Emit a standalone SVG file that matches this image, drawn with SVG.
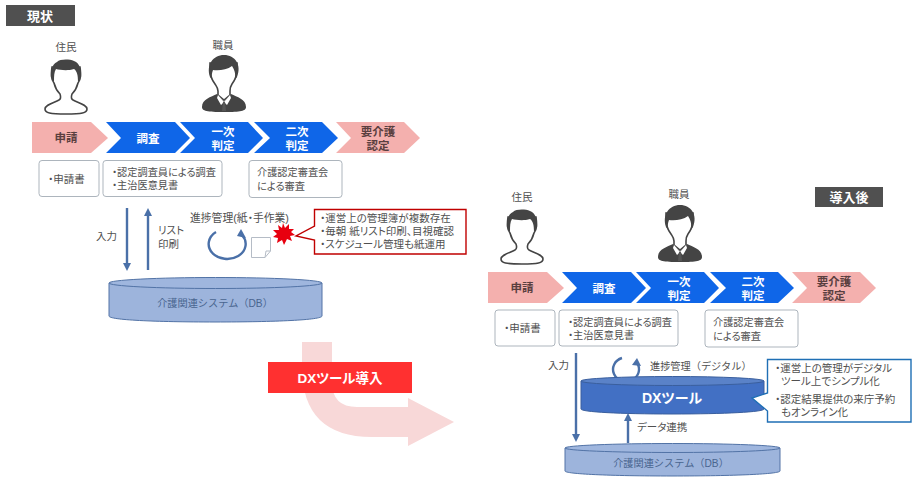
<svg xmlns="http://www.w3.org/2000/svg" width="917" height="480" viewBox="0 0 917 480">
<style>
text{font-family:"Liberation Sans","Noto Sans CJK JP",sans-serif;fill:#505050;font-size:10.5px;font-feature-settings:"palt"}
.s{font-size:10.2px}
.n{font-feature-settings:normal;font-size:10.2px}
.c{text-anchor:middle}
.tag{fill:#505050}
.tagt{fill:#fff;font-weight:700;font-size:13px;text-anchor:middle}
.pink{fill:#f4b0ae}
.blue{fill:#0f66e8}
.pt{fill:#5a3f3f;font-weight:700;font-size:11.5px;text-anchor:middle}
.bt{fill:#fff;font-weight:700;font-size:11.5px;text-anchor:middle}
.box{fill:#fff;stroke:#adb5bd;stroke-width:1}
.dark{fill:#444}
.face{fill:#fff;stroke:#444;stroke-width:1.6}
.ln{fill:none;stroke:#4a70a8;stroke-width:2.4}
.dbs{fill:#9db4dc;stroke:#5273a6;stroke-width:1}
.dbt{fill:#9fb6de;stroke:#5273a6;stroke-width:1}
.ah{fill:#4a70a8}
</style>
<defs>
<g id="resident">
<path class="face" d="M1 50C1 46 9 44 15 41C17 40 17 38 16 35C13 32 11 28 10 24C7 20 7 16 8 8L36 8C37 16 37 20 34 24C33 28 31 32 28 35C27 38 27 40 29 41C35 44 43 46 43 50C43 54 38 55 22 55C6 55 1 54 1 50Z"/>
<path class="dark" d="M8 21C6 12 8 5 13 3C16 0 25 0 30 2C36 4 38 12 36 21L34 23C34 16 33 12 30 10C24 12 16 11 12 10C10 13 10 17 10 23Z"/>
</g>
<g id="staff">
<path class="dark" d="M1 52C1 44 10 42 16 39L23 46L30 39C36 42 45 44 45 52C45 56 40 57 23 57C6 57 1 56 1 52Z"/>
<path class="face" d="M17 36C17 33 16 32 14 29C11 25 9 22 9 8L36 8C36 22 34 25 31 29C29 32 29 33 29 36L29 40L23 45L17 40Z"/>
<path class="dark" d="M9 22C5 10 12 0 23 0C34 0 41 10 36 22L34 25C35 18 33 14 31 11C26 15 17 16 12 15C11 18 10 21 11 25Z"/>
<path d="M17 40L23 47L29 40L30 43L26 50L23 47L20 50L16 43Z" fill="#fff"/>
<path d="M22 47H24L25 56H21Z" fill="#555"/>
</g>
<marker id="a" viewBox="0 0 10 10" refX="5" refY="5" markerUnits="userSpaceOnUse" markerWidth="8" markerHeight="9" orient="auto-start-reverse"><path class="ah" d="M0 0L10 5L0 10Z"/></marker>
</defs>

<g id="connectors">
<path id="dx-flow" fill="#f8d8d8" d="M302 342H332V382Q332 407 357 407H408V398L454 422L408 446V437H372Q302 437 302 367Z"/>
<path class="ln" d="M127 208V267" marker-end="url(#a)"/>
<path class="ln" d="M148 270V212" marker-end="url(#a)"/>
<path class="ln" d="M576 353V438" marker-end="url(#a)"/>
<path class="ln" d="M628 443V417" marker-end="url(#a)"/>
</g>

<g id="label-current"><rect class="tag" x="6" y="5" width="69" height="21"/><text class="tagt" x="40" y="20.500">現状</text></g>
<g id="resident-current"><text class="c" x="66" y="51">住民</text><use href="#resident" x="44" y="59"/></g>
<g id="staff-current"><text class="c" x="223" y="49">職員</text><use href="#staff" x="201" y="55"/></g>

<g id="step-apply-current"><path class="pink" d="M32 122H91L108 138L91 153H32Z"/><text class="pt" x="66" y="142">申請</text></g>
<g id="step-survey-current"><path class="blue" d="M106 122H175L190 138L175 153H106L121 138Z"/><text class="bt" x="148" y="143">調査</text></g>
<g id="step-first-current"><path class="blue" d="M180 122H248L263 138L248 153H180L195 138Z"/><text class="bt" x="223" y="136">一次</text><text class="bt" x="223" y="150">判定</text></g>
<g id="step-second-current"><path class="blue" d="M254 122H322L338 138L322 153H254L270 138Z"/><text class="bt" x="297" y="136">二次</text><text class="bt" x="297" y="150">判定</text></g>
<g id="step-cert-current"><path class="pink" d="M336 122H404L420 138L404 153H336L351 138Z"/><text class="pt" x="378" y="136">要介護</text><text class="pt" x="378" y="150">認定</text></g>

<g id="box-form-current"><rect class="box" x="39" y="160.500" width="60" height="36" rx="3"/><text x="48" y="183">・申請書</text></g>
<g id="box-survey-current"><rect class="box" x="103" y="160.500" width="119" height="36" rx="3"/><text class="s" x="112" y="176">・認定調査員による調査</text><text class="s" x="112" y="189">・主治医意見書</text></g>
<g id="box-review-current"><rect class="box" x="249" y="160.500" width="93" height="37" rx="3"/><text class="s" x="257" y="176">介護認定審査会</text><text class="s" x="257" y="190">による審査</text></g>

<g id="label-input-current"><text x="96" y="240">入力</text></g>
<g id="label-print"><text x="158" y="234">リスト</text><text x="158" y="248">印刷</text></g>
<g id="progress-current">
<text x="190" y="222" style="font-size:10.800px">進捗管理(紙・手作業)</text>
<path d="M216 232A18.500 15 0 1 0 242 235" fill="none" stroke="#4a70a8" stroke-width="2.400"/>
<path class="ah" d="M241 229L246 238L237 236Z"/>
<path d="M251.500 237.500H270.500V251L265 257.500H251.500Z" fill="#fff" stroke="#b5bcc6"/>
<path d="M265 257.500L266 251H270.500" fill="none" stroke="#b5bcc6"/>
<path id="burst" fill="#e8000f" d="M283 223L285 228L289 224L289 229L294 229L291 232L295 235L290 236L292 241L287 239L284 245L282 240L277 243L278 238L273 237L277 234L273 230L279 230L278 225L282 228Z"/>
</g>
<g id="callout-current"><path d="M314.500 209.500H466V254H314.500V240L296 236L314.500 226Z" fill="#fff" stroke="#c00000" stroke-width="1.400"/>
<text x="320" y="222">・運営上の管理簿が複数存在</text><text x="320" y="235">・毎朝 紙リスト印刷、目視確認</text><text x="320" y="248">・スケジュール管理も紙運用</text></g>
<g id="db-current"><path class="dbs" d="M109 283V316C109 320 155 322 215 322C275 322 322 320 322 316V283Z"/><ellipse class="dbt" cx="215.500" cy="283" rx="106.500" ry="5.500"/><text class="c n" x="215" y="307" style="fill:#49658f">介護関連システム（DB）</text></g>

<g id="banner"><rect x="268" y="362" width="144" height="31" fill="#ff3030"/><text class="c" x="340" y="382.500" style="fill:#fff;font-weight:700;font-size:13.500px">DXツール導入</text></g>

<g id="label-after"><rect class="tag" x="815" y="187" width="68" height="20"/><text class="tagt" x="849" y="202">導入後</text></g>
<g id="resident-after"><text class="c" x="522" y="201">住民</text><use href="#resident" x="500" y="209"/></g>
<g id="staff-after"><text class="c" x="679" y="198">職員</text><use href="#staff" x="657" y="205"/></g>

<g id="step-apply-after"><path class="pink" d="M488 272H547L564 288L547 303H488Z"/><text class="pt" x="522" y="292">申請</text></g>
<g id="step-survey-after"><path class="blue" d="M562 272H631L646 288L631 303H562L577 288Z"/><text class="bt" x="604" y="293">調査</text></g>
<g id="step-first-after"><path class="blue" d="M636 272H704L719 288L704 303H636L651 288Z"/><text class="bt" x="679" y="286">一次</text><text class="bt" x="679" y="300">判定</text></g>
<g id="step-second-after"><path class="blue" d="M710 272H778L794 288L778 303H710L726 288Z"/><text class="bt" x="753" y="286">二次</text><text class="bt" x="753" y="300">判定</text></g>
<g id="step-cert-after"><path class="pink" d="M792 272H860L876 288L860 303H792L807 288Z"/><text class="pt" x="834" y="286">要介護</text><text class="pt" x="834" y="300">認定</text></g>

<g id="box-form-after"><rect class="box" x="495" y="310" width="60" height="36" rx="3"/><text x="504" y="332">・申請書</text></g>
<g id="box-survey-after"><rect class="box" x="559" y="310" width="119" height="36" rx="3"/><text class="s" x="568" y="326">・認定調査員による調査</text><text class="s" x="568" y="339">・主治医意見書</text></g>
<g id="box-review-after"><rect class="box" x="705" y="310" width="93" height="37" rx="3"/><text class="s" x="713" y="326">介護認定審査会</text><text class="s" x="713" y="340">による審査</text></g>

<g id="label-input-after"><text x="548" y="369">入力</text></g>
<g id="progress-after">
<path d="M622 358A13 12 0 1 0 637 363" fill="none" stroke="#4a70a8" stroke-width="2.400"/>
<path class="ah" d="M637 358L641 366L632 365Z"/>
<text class="n" x="650" y="370">進捗管理（デジタル）</text>
</g>
<g id="db-dx"><path d="M581 381V409C581 412 620 414 672 414C725 414 764 412 764 409V381Z" fill="#4270c4" stroke="#3a5f9e"/><ellipse cx="672.500" cy="381" rx="91.500" ry="4.500" fill="#5a82c8" stroke="#3a5f9e"/><text class="c" x="672" y="403" style="fill:#fff;font-weight:700;font-size:14px">DXツール</text></g>
<g id="callout-after"><path d="M767.500 359.500H911V422H767.500V411L752 398L767.500 393Z" fill="#fff" stroke="#1f6fb5" stroke-width="1.400"/>
<text x="775" y="372">・運営上の管理がデジタル</text><text x="781" y="385">ツール上でシンプル化</text><text x="775" y="403">・認定結果提供の来庁予約</text><text x="781" y="416">もオンライン化</text></g>
<g id="label-link"><text x="637" y="431">データ連携</text></g>
<g id="db-after"><path class="dbs" d="M565 448V471C565 474 610 476 672 476C735 476 780 474 780 471V448Z"/><ellipse class="dbt" cx="672.500" cy="448" rx="107.500" ry="4.500"/><text class="c n" x="671" y="467" style="fill:#49658f">介護関連システム（DB）</text></g>
</svg>
